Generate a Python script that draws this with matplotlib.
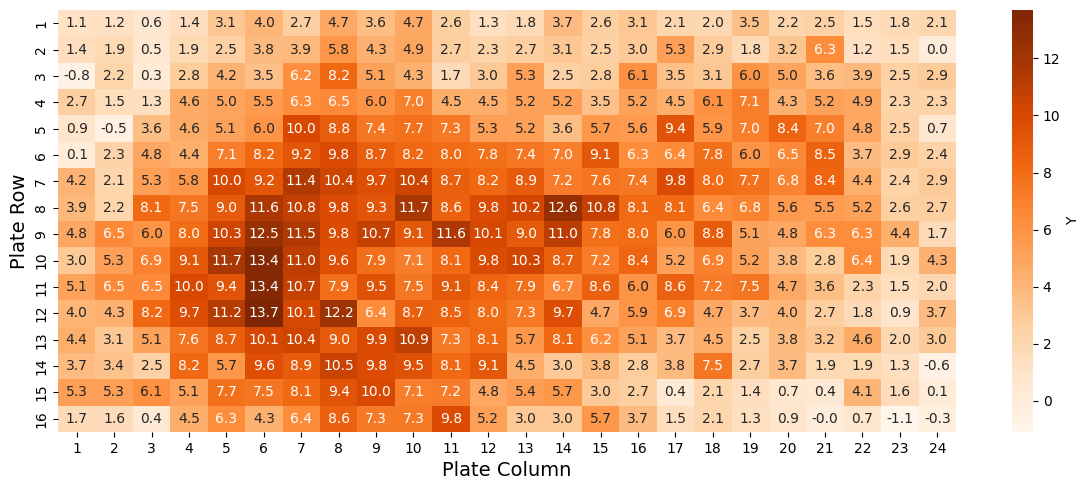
import numpy as np
import matplotlib
matplotlib.use("Agg")
import matplotlib.pyplot as plt
import seaborn as sns

row_labels = [str(i) for i in range(1, 17)]
col_labels = [str(i) for i in range(1, 25)]

r1 = [1.1, 1.2, 0.6, 1.4, 3.1, 4.0, 2.7, 4.7, 3.6, 4.7, 2.6, 1.3, 1.8, 3.7, 2.6, 3.1, 2.1, 2.0, 3.5, 2.2, 2.5, 1.5, 1.8, 2.1]
r2 = [1.4, 1.9, 0.5, 1.9, 2.5, 3.8, 3.9, 5.8, 4.3, 4.9, 2.7, 2.3, 2.7, 3.1, 2.5, 3.0, 5.3, 2.9, 1.8, 3.2, 6.3, 1.2, 1.5, 0.0]
r3 = [-0.8, 2.2, 0.3, 2.8, 4.2, 3.5, 6.2, 8.2, 5.1, 4.3, 1.7, 3.0, 5.3, 2.5, 2.8, 6.1, 3.5, 3.1, 6.0, 5.0, 3.6, 3.9, 2.5, 2.9]
r4 = [2.7, 1.5, 1.3, 4.6, 5.0, 5.5, 6.3, 6.5, 6.0, 7.0, 4.5, 4.5, 5.2, 5.2, 3.5, 5.2, 4.5, 6.1, 7.1, 4.3, 5.2, 4.9, 2.3, 2.3]
r5 = [0.9, -0.5, 3.6, 4.6, 5.1, 6.0, 10.0, 8.8, 7.4, 7.7, 7.3, 5.3, 5.2, 3.6, 5.7, 5.6, 9.4, 5.9, 7.0, 8.4, 7.0, 4.8, 2.5, 0.7]
r6 = [0.1, 2.3, 4.8, 4.4, 7.1, 8.2, 9.2, 9.8, 8.7, 8.2, 8.0, 7.8, 7.4, 7.0, 9.1, 6.3, 6.4, 7.8, 6.0, 6.5, 8.5, 3.7, 2.9, 2.4]
r7 = [4.2, 2.1, 5.3, 5.8, 10.0, 9.2, 11.4, 10.4, 9.7, 10.4, 8.7, 8.2, 8.9, 7.2, 7.6, 7.4, 9.8, 8.0, 7.7, 6.8, 8.4, 4.4, 2.4, 2.9]
r8 = [3.9, 2.2, 8.1, 7.5, 9.0, 11.6, 10.8, 9.8, 9.3, 11.7, 8.6, 9.8, 10.2, 12.6, 10.8, 8.1, 8.1, 6.4, 6.8, 5.6, 5.5, 5.2, 2.6, 2.7]
r9 = [4.8, 6.5, 6.0, 8.0, 10.3, 12.5, 11.5, 9.8, 10.7, 9.1, 11.6, 10.1, 9.0, 11.0, 7.8, 8.0, 6.0, 8.8, 5.1, 4.8, 6.3, 6.3, 4.4, 1.7]
r10 = [3.0, 5.3, 6.9, 9.1, 11.7, 13.4, 11.0, 9.6, 7.9, 7.1, 8.1, 9.8, 10.3, 8.7, 7.2, 8.4, 5.2, 6.9, 5.2, 3.8, 2.8, 6.4, 1.9, 4.3]
r11 = [5.1, 6.5, 6.5, 10.0, 9.4, 13.4, 10.7, 7.9, 9.5, 7.5, 9.1, 8.4, 7.9, 6.7, 8.6, 6.0, 8.6, 7.2, 7.5, 4.7, 3.6, 2.3, 1.5, 2.0]
r12 = [4.0, 4.3, 8.2, 9.7, 11.2, 13.7, 10.1, 12.2, 6.4, 8.7, 8.5, 8.0, 7.3, 9.7, 4.7, 5.9, 6.9, 4.7, 3.7, 4.0, 2.7, 1.8, 0.9, 3.7]
r13 = [4.4, 3.1, 5.1, 7.6, 8.7, 10.1, 10.4, 9.0, 9.9, 10.9, 7.3, 8.1, 5.7, 8.1, 6.2, 5.1, 3.7, 4.5, 2.5, 3.8, 3.2, 4.6, 2.0, 3.0]
r14 = [3.7, 3.4, 2.5, 8.2, 5.7, 9.6, 8.9, 10.5, 9.8, 9.5, 8.1, 9.1, 4.5, 3.0, 3.8, 2.8, 3.8, 7.5, 2.7, 3.7, 1.9, 1.9, 1.3, -0.6]
r15 = [5.3, 5.3, 6.1, 5.1, 7.7, 7.5, 8.1, 9.4, 10.0, 7.1, 7.2, 4.8, 5.4, 5.7, 3.0, 2.7, 0.4, 2.1, 1.4, 0.7, 0.4, 4.1, 1.6, 0.1]
r16 = [1.7, 1.6, 0.4, 4.5, 6.3, 4.3, 6.4, 8.6, 7.3, 7.3, 9.8, 5.2, 3.0, 3.0, 5.7, 3.7, 1.5, 2.1, 1.3, 0.9, -0.04, 0.7, -1.1, -0.3]

data = np.array([r1, r2, r3, r4, r5, r6, r7, r8, r9, r10, r11, r12, r13, r14, r15, r16])

fig = plt.figure(figsize=(10.89, 4.9), dpi=100)
ax = fig.add_axes([58 / 1089, 1 - 432 / 490, (956 - 58) / 1089, 422 / 490])
cax = fig.add_axes([1012 / 1089, 1 - 432 / 490, 21 / 1089, 422 / 490])

sns.heatmap(data, ax=ax, cbar_ax=cax, cmap="Oranges", annot=True, fmt=".1f",
            annot_kws={"fontsize": 10},
            xticklabels=col_labels, yticklabels=row_labels,
            cbar_kws={"label": "Y"})
ax.set_xlabel("Plate Column", fontsize=14)
ax.set_ylabel("Plate Row", fontsize=14)
ax.tick_params(axis="both", labelsize=10)
ax.set_yticklabels(row_labels, rotation=90, va="center")
cax.tick_params(labelsize=10)
cax.yaxis.label.set_size(10)

fig.savefig("out.png", dpi=100)
